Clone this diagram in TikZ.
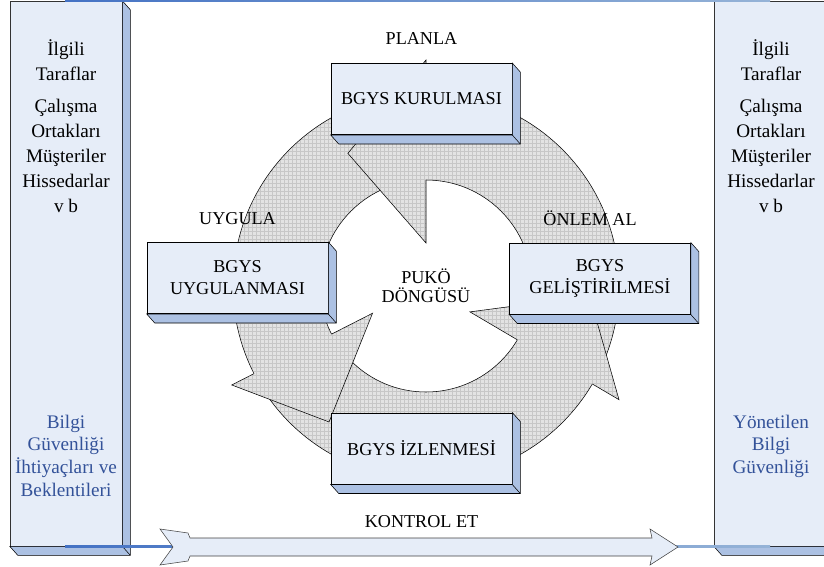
\documentclass[tikz,border=0pt]{standalone}
\usepackage{fontspec}
\setmainfont{Liberation Serif}
\usepackage{xcolor}
\usepackage{tikz}
\usetikzlibrary{positioning,patterns}

\definecolor{yuz}{RGB}{230,237,248}
\definecolor{yan}{RGB}{172,193,227}
\definecolor{koyumavi}{RGB}{68,114,196}
\definecolor{acikmavi}{RGB}{149,179,215}
\definecolor{yazimavi}{RGB}{51,82,153}

% kutularin sag ve alt yuzu
\newcommand{\derinlik}[1]{%
  \draw[fill=yan] (#1.north east) -- ++(8,9) -- ([shift={(8,9)}]#1.south east) -- ([shift={(8,9)}]#1.south west) -- (#1.south west) -- (#1.south east) -- cycle;
  \draw (#1.south east) -- ++(8,9);}

\begin{document}
\begin{tikzpicture}[x=0.75pt, y=-0.75pt, font=\fontsize{13.6}{16.5}\selectfont,
	kutu/.style={rectangle, draw, fill=yuz, minimum width=135.75pt, minimum height=53.6pt, align=center, inner sep=0pt},
	panel/.style={rectangle, draw=black!80, fill=yuz, minimum height=408.75pt, inner sep=0pt},
	halka/.style={fill=black!11, postaction={pattern=grid, pattern color=black!22}}]
	\useasboundingbox (0,0) rectangle (824,567);
	\clip (0,0) rectangle (824,567);
	
	% yan paneller
	\node[panel, minimum width=84pt] (sol) at (66,273.5) {};
	\derinlik{sol}
	\node[panel, minimum width=87pt] (sag) at (772,273.5) {};
	\derinlik{sag}
	\node[align=center, anchor=north, font=\fontsize{14.4}{18.75}\selectfont] (sol1) at (66,35) {İlgili\\Taraflar\\[5pt]Çalışma\\Ortakları\\Müşteriler\\Hissedarlar\\v b};
	\node[align=center, anchor=north, font=\fontsize{14.4}{18.75}\selectfont] (sag1) at (771,35) {İlgili\\Taraflar\\[5pt]Çalışma\\Ortakları\\Müşteriler\\Hissedarlar\\v b};
	\node[align=center, anchor=north, text=yazimavi, font=\fontsize{14.4}{17}\selectfont] (sol2) at (66,410) {Bilgi\\Güvenliği\\İhtiyaçları ve\\Beklentileri};
	\node[align=center, anchor=north, text=yazimavi, font=\fontsize{14.4}{17}\selectfont] (sag2) at (771,410) {Yönetilen\\Bilgi\\Güvenliği};
	
	% mavi cizgiler
	\shade[left color=koyumavi, right color=acikmavi] (65,0) rectangle (770,2);
	\shade[left color=koyumavi, right color=acikmavi] (65,545.2) rectangle (770,547);
	
	% kontrol oku
	\draw[fill=yuz, draw=black!75] (160,529) -- (188,533) -- (190,538) -- (652,538) -- (650,529) -- (678,547) -- (650,565) -- (652,556) -- (190,556) -- (188,561) -- (160,565) -- (173,547) -- cycle;
	
	% puko halkasi
	\coordinate (c) at (426,286);
	\fill[halka, even odd rule] (c) circle[radius=193] (c) circle[radius=106];
	\draw (c) circle[radius=193] (c) circle[radius=106];
	\foreach \a/\ri/\ro/\t/\rt in {90/43/226/120.5/154, 207/60/218/234.5/167, 329.5/51/224/356.5/164} {
		\fill[halka] ([shift={(-\a:\ri)}]c) -- ([shift={(-\a:\ro)}]c) -- ([shift={(-\t:\rt)}]c) -- cycle;
		\draw ([shift={(-\a:106)}]c) -- ([shift={(-\a:\ri)}]c) -- ([shift={(-\t:\rt)}]c) -- ([shift={(-\a:\ro)}]c) -- ([shift={(-\a:193)}]c);
	}
	
	% kutular
	\node[kutu] (kur) at (421.5,99) {BGYS KURULMASI};
	\derinlik{kur}
	\node[kutu] (uyg) at (237.5,278) {BGYS\\UYGULANMASI};
	\derinlik{uyg}
	\node[kutu] (gel) at (600,278.5) {BGYS\\GELİŞTİRİLMESİ};
	\derinlik{gel}
	\node[kutu] (izl) at (421.5,448.5) {BGYS İZLENMESİ};
	\derinlik{izl}
	
	\node[above=13.5pt of kur, inner sep=0pt] (planla) {PLANLA};
	\node[above=12.5pt of uyg, inner sep=0pt] (uygula) {UYGULA};
	\node[above=12.5pt of gel, inner sep=0pt, xshift=-7.5pt] (onlem) {ÖNLEM AL};
	\node[below=23pt of izl, inner sep=0pt] (kontrol) {KONTROL ET};
	\node[align=center, font=\fontsize{13.6}{14.25}\selectfont] (puko) at (c) {PUKÖ\\DÖNGÜSÜ};
\end{tikzpicture}
\end{document}
